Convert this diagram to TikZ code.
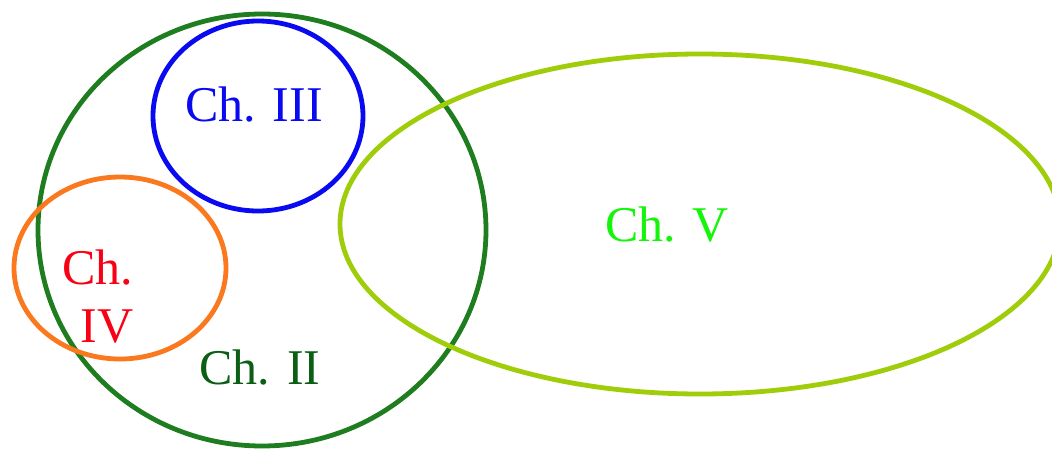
\documentclass[tikz,border=0pt]{standalone}
\usepackage{fontspec}
\setmainfont{Liberation Serif}
\definecolor{cblue}{RGB}{10,10,240}
\definecolor{cdgreen}{RGB}{30,125,30}
\definecolor{ctgreen}{RGB}{10,95,20}
\definecolor{corange}{RGB}{250,120,30}
\definecolor{cred}{RGB}{250,0,20}
\definecolor{clime}{RGB}{160,205,10}
\definecolor{cbright}{RGB}{20,245,10}
\begin{document}
\begin{tikzpicture}[x=1pt,y=-1pt,
  ring/.style={line width=4.8pt},
  lab/.style={font=\fontsize{50}{52}\selectfont, inner sep=0pt, align=center}]
\useasboundingbox (0,0) rectangle (1052,450);
\clip (0,0) rectangle (1052,450);
\draw[ring, cdgreen] (262,230) ellipse [x radius=224, y radius=216];
\draw[ring, cblue] (258,116) ellipse [x radius=105, y radius=95];
\draw[ring, corange] (120,268) ellipse [x radius=106, y radius=91];
\draw[ring, clime] (700,224) ellipse [x radius=360, y radius=170];
\node[lab, text=cblue] (c3) at (254,105) {Ch. III};
\node[lab, text=cred] (c4a) at (98,268) {Ch.};
\node[lab, text=cred] (c4b) at (107,327) {IV};
\node[lab, text=ctgreen] (c2) at (260,368) {Ch. II};
\node[lab, text=cbright] (c5) at (667,225) {Ch. V};
\end{tikzpicture}
\end{document}
